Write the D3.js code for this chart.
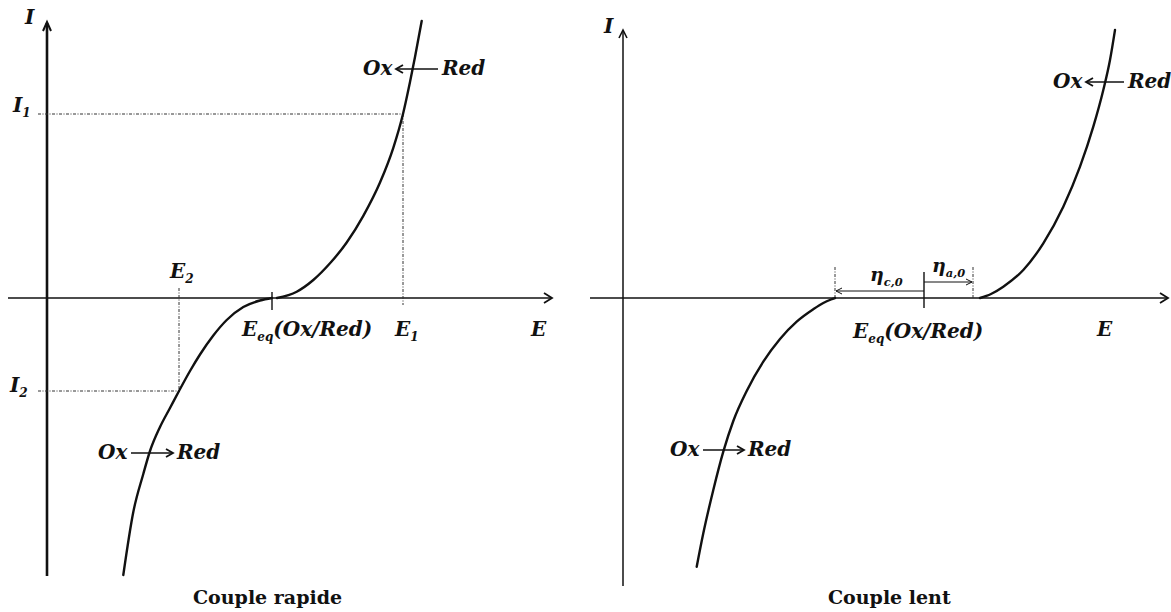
<!DOCTYPE html>
<html><head><meta charset="utf-8">
<script src="https://cdn.jsdelivr.net/npm/d3@7"></script>
<style>body{margin:0;background:#fff}svg{display:block}</style>
</head><body>
<script>
// Intensity–potential curves, arbitrary units (E horizontal, I vertical)

// Fast couple: cathodic branch (reduction) and anodic branch (oxidation)
const rapideCathE = [1.526, 1.726, 1.926, 2.06, 2.26, 2.46, 2.64, 2.86, 3.06, 3.326, 3.594, 3.926, 4.26, 4.50];
const rapideCathI = [-5.54, -4.28, -3.52, -3.06, -2.58, -2.20, -1.86, -1.46, -1.13, -0.75, -0.44, -0.18, -0.05, 0];
const rapideAnodE = [4.60, 4.994, 5.326, 5.66, 5.994, 6.326, 6.66, 6.926, 7.12, 7.26, 7.36, 7.494];
const rapideAnodI = [0, 0.126, 0.36, 0.694, 1.11, 1.644, 2.31, 3.004, 3.68, 4.32, 4.82, 5.54];

// Slow couple: both branches pushed apart by the overpotentials
const lentCathE = [1.474, 1.606, 1.806, 2.006, 2.206, 2.474, 2.806, 3.14, 3.474, 3.806, 4.006, 4.16, 4.24];
const lentCathI = [-5.374, -4.706, -3.84, -3.074, -2.46, -1.86, -1.274, -0.82, -0.474, -0.226, -0.10, -0.03, 0];
const lentAnodE = [7.14, 7.36, 7.606, 8.006, 8.406, 8.806, 9.14, 9.406, 9.606, 9.74, 9.84];
const lentAnodI = [0, 0.08, 0.226, 0.56, 1.094, 1.826, 2.626, 3.426, 4.16, 4.76, 5.36];

// Remarkable potentials and currents
const rapideEeq = 4.50;
const rapideE1 = 7.12, rapideI1 = 3.68;
const rapideE2 = 2.64, rapideI2 = -1.86;
const lentEeq = 6.02;
const lentEc = 4.24;   // foot of the cathodic wave
const lentEa = 7.00;   // foot of the anodic wave

// Titles
const titles = ["Couple rapide", "Couple lent"];

const W = 1171, H = 612;
const svg = d3.select("body").append("svg").attr("width", W).attr("height", H);

const MATH = "'DejaVu Serif', 'Liberation Serif', serif";

function zip(a, b) { return a.map((v, i) => [v, b[i]]); }

// Italic-bold math label made of parts {t, sub}
function mathLabel(g, x, y, parts, size) {
  size = size || 20;
  const t = g.append("text").attr("x", x).attr("y", y)
    .attr("font-family", MATH).attr("font-weight", "bold").attr("font-style", "italic")
    .attr("font-size", size).attr("fill", "#111");
  let shifted = 0;
  parts.forEach(p => {
    const s = t.append("tspan").text(p.t);
    if (p.sub) {
      s.attr("font-size", size * 0.6).attr("dy", 5 - shifted);
      shifted = 5;
    } else if (shifted) {
      s.attr("dy", -shifted);
      shifted = 0;
    }
  });
  return t;
}

function chevron(g, x, y, dir, len, half, w) {
  let d;
  if (dir === "r") d = `M${x - len},${y - half}L${x},${y}L${x - len},${y + half}`;
  else if (dir === "l") d = `M${x + len},${y - half}L${x},${y}L${x + len},${y + half}`;
  else d = `M${x - half},${y + len}L${x},${y}L${x + half},${y + len}`;
  g.append("path").attr("d", d).attr("fill", "none").attr("stroke", "#111")
    .attr("stroke-width", w || 1.6).attr("stroke-linejoin", "miter");
}

function reaction(g, xOx, xRed, y, dir) {
  // "Ox ← Red" or "Ox → Red"
  mathLabel(g, xOx, y + 6, [{ t: "Ox" }]);
  mathLabel(g, xRed, y + 6, [{ t: "Red" }]);
  const a = xOx + 33, b = xRed - 4;
  g.append("line").attr("x1", a).attr("x2", b).attr("y1", y).attr("y2", y)
    .attr("stroke", "#111").attr("stroke-width", 1.4);
  if (dir === "l") chevron(g, a, y, "l", 7, 4, 1.8);
  else chevron(g, b, y, "r", 7, 4, 1.8);
}

const line = (x, y) => d3.line().x(d => x(d[0])).y(d => y(d[1])).curve(d3.curveMonotoneX);

function drawCurve(g, x, y, pts) {
  g.append("path").datum(pts).attr("d", line(x, y)).attr("fill", "none")
    .attr("stroke", "#111").attr("stroke-width", 2.4).attr("stroke-linecap", "round");
}

function guide(g, x1, y1, x2, y2) {
  g.append("line").attr("x1", x1).attr("y1", y1).attr("x2", x2).attr("y2", y2)
    .attr("stroke", "#333").attr("stroke-width", 1).attr("stroke-dasharray", "3,1.5,1,1.5");
}

/* ---------- Left panel: fast couple ---------- */
{
  const g = svg.append("g");
  const x = d3.scaleLinear().domain([0, 10]).range([47, 547]);
  const y = d3.scaleLinear().domain([0, 5]).range([298, 48]);
  const y0 = y(0), x0 = x(0);

  // axes
  g.append("line").attr("x1", 8).attr("x2", 551).attr("y1", y0).attr("y2", y0)
    .attr("stroke", "#111").attr("stroke-width", 1.5);
  chevron(g, 552, y0, "r", 8, 5, 1.8);
  g.append("line").attr("x1", x0).attr("x2", x0).attr("y1", 576).attr("y2", 23)
    .attr("stroke", "#111").attr("stroke-width", 2.6);
  chevron(g, x0, 22, "u", 9, 4, 2);

  // guides for (E1, I1) and (E2, I2)
  guide(g, 38, y(rapideI1), x(rapideE1), y(rapideI1));
  guide(g, x(rapideE1), y(rapideI1), x(rapideE1), y0 + 7);
  guide(g, 38, y(rapideI2), x(rapideE2), y(rapideI2));
  guide(g, x(rapideE2), y0 - 10, x(rapideE2), y(rapideI2));

  // Eeq tick
  g.append("line").attr("x1", x(rapideEeq)).attr("x2", x(rapideEeq))
    .attr("y1", y0 - 6).attr("y2", y0 + 12).attr("stroke", "#111").attr("stroke-width", 1.4);

  drawCurve(g, x, y, zip(rapideCathE, rapideCathI));
  drawCurve(g, x, y, zip(rapideAnodE, rapideAnodI));

  // labels
  mathLabel(g, 25, 24, [{ t: "I" }]);
  mathLabel(g, 13, 112, [{ t: "I" }, { t: "1", sub: true }]);
  mathLabel(g, 10, 392, [{ t: "I" }, { t: "2", sub: true }]);
  mathLabel(g, x(rapideE2) - 9, 278, [{ t: "E" }, { t: "2", sub: true }]);
  mathLabel(g, x(rapideE1) - 8, 336, [{ t: "E" }, { t: "1", sub: true }]);
  mathLabel(g, 242, 336, [{ t: "E" }, { t: "eq", sub: true }, { t: "(Ox/Red)" }]);
  mathLabel(g, 531, 336, [{ t: "E" }]);

  reaction(g, 363, 442, 69, "l");
  reaction(g, 98, 177, 453, "r");

  g.append("text").attr("x", 193).attr("y", 604).text(titles[0])
    .attr("font-family", MATH).attr("font-weight", "bold").attr("font-size", 19).attr("fill", "#111");
}

/* ---------- Right panel: slow couple ---------- */
{
  const g = svg.append("g");
  const x = d3.scaleLinear().domain([0, 10]).range([623, 1123]);
  const y = d3.scaleLinear().domain([0, 5]).range([298, 48]);
  const y0 = y(0), x0 = x(0);

  g.append("line").attr("x1", 590).attr("x2", 1167).attr("y1", y0).attr("y2", y0)
    .attr("stroke", "#111").attr("stroke-width", 1.5);
  chevron(g, 1168, y0, "r", 8, 5, 1.8);
  g.append("line").attr("x1", x0).attr("x2", x0).attr("y1", 586).attr("y2", 31)
    .attr("stroke", "#111").attr("stroke-width", 1.5);
  chevron(g, x0, 30, "u", 8, 4, 1.6);

  // Eeq tick and overpotential arrows
  g.append("line").attr("x1", x(lentEeq)).attr("x2", x(lentEeq))
    .attr("y1", y0 - 26).attr("y2", y0 + 10).attr("stroke", "#111").attr("stroke-width", 1.4);
  guide(g, x(lentEc), y0 - 31, x(lentEc), y0);
  guide(g, x(lentEa), y0 - 31, x(lentEa), y0);

  g.append("line").attr("x1", x(lentEeq)).attr("x2", x(lentEc) + 1).attr("y1", y0 - 7).attr("y2", y0 - 7)
    .attr("stroke", "#111").attr("stroke-width", 1);
  chevron(g, x(lentEc) + 1, y0 - 7, "l", 6, 3, 1);
  g.append("line").attr("x1", x(lentEeq)).attr("x2", x(lentEa) - 1).attr("y1", y0 - 16).attr("y2", y0 - 16)
    .attr("stroke", "#111").attr("stroke-width", 1);
  chevron(g, x(lentEa) - 1, y0 - 16, "r", 6, 3, 1);

  drawCurve(g, x, y, zip(lentCathE, lentCathI));
  drawCurve(g, x, y, zip(lentAnodE, lentAnodI));

  mathLabel(g, 604, 33, [{ t: "I" }]);
  mathLabel(g, 870, 281, [{ t: "η" }, { t: "c,0", sub: true }], 19);
  mathLabel(g, 932, 272, [{ t: "η" }, { t: "a,0", sub: true }], 19);
  mathLabel(g, 853, 338, [{ t: "E" }, { t: "eq", sub: true }, { t: "(Ox/Red)" }]);
  mathLabel(g, 1097, 336, [{ t: "E" }]);

  reaction(g, 1053, 1128, 82, "l");
  reaction(g, 670, 748, 450, "r");

  g.append("text").attr("x", 828).attr("y", 604).text(titles[1])
    .attr("font-family", MATH).attr("font-weight", "bold").attr("font-size", 19).attr("fill", "#111");
}
</script>
</body></html>
